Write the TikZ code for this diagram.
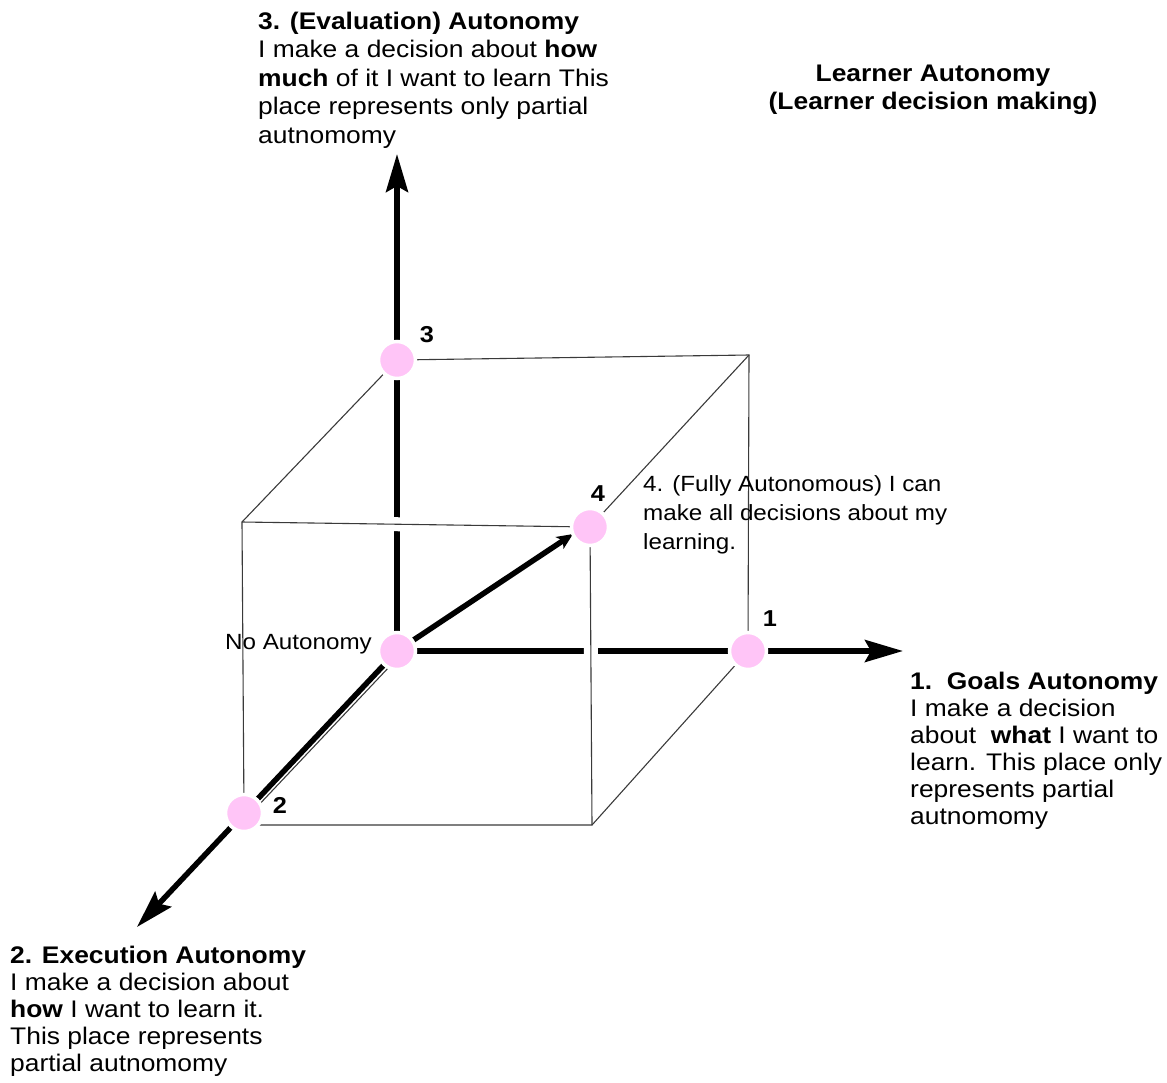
\documentclass[tikz,border=0pt]{standalone}
\usepackage{fontspec}
\setmainfont[FakeStretch=1.1]{Liberation Sans}
\usetikzlibrary{arrows.meta}
\definecolor{dotpink}{HTML}{FFC5F7}
\definecolor{edgegray}{HTML}{3A3A3A}

\begin{document}
\begin{tikzpicture}[x=1pt,y=-1pt,
  axis/.style={line width=5.5pt,-{Stealth[length=38pt,width=22pt,inset=6pt]}},
  edge/.style={draw=edgegray,line width=1.1pt},
  halo/.style={preaction={draw=white,line width=14pt,#1}},
  dot/.style={circle,fill=dotpink,draw=white,line width=3.5pt,minimum size=37pt,inner sep=0pt},
  num/.style={font=\fontsize{23}{26}\selectfont\bfseries,anchor=base,inner sep=0pt},
  block/.style={anchor=north west,align=left,inner sep=0pt},
  ]
\useasboundingbox (0,0) rectangle (1167,1082);

% cube corners and axis points
\coordinate (o)   at (397,651);
\coordinate (p1)  at (748,651);
\coordinate (p2)  at (244,813);
\coordinate (p3)  at (397,360);
\coordinate (p4)  at (590,527);
\coordinate (cxy) at (749,355);
\coordinate (cyz) at (242,522);
\coordinate (cxz) at (592,825);
\coordinate (cbl) at (244,825);
% arrow tips
\coordinate (t1) at (903,651);
\coordinate (t2) at (137,927);
\coordinate (t3) at (397,154);
\coordinate (t4) at (573,534);

% thin cube edges behind the axes
\draw[edge] (p3) -- (cxy) -- (p1);
\draw[edge] (p3) -- (cyz) -- (p2);
\draw[edge] (cbl) -- (cxz) -- (p1);
\draw[edge] (p4) -- (cxy);
\draw[edge] ([shift={(3.8,3.6)}]o) -- ([shift={(3.8,3.6)}]p2);

% the three thick axes
\draw[axis] (o) -- (t3);
\draw[axis] (o) -- (t1);
\draw[axis] (o) -- (t2);

% front edges passing in front of the axes
\draw[edge,halo={shorten <=14pt}] (cyz) -- (p4);
\draw[edge,halo={shorten >=14pt}] (p4) -- (cxz);

% diagonal towards full autonomy
\draw[line width=5.5pt,-{Stealth[length=16pt,width=14pt,inset=4pt]}] (o) -- (t4);

% points
\node[dot] (d0) at (o)  {};
\node[dot] (d1) at (p1) {};
\node[dot] (d2) at (p2) {};
\node[dot] (d3) at (p3) {};
\node[dot] (d4) at (p4) {};

% point numbers
\node[num] (n3) at (427,342) {3};
\node[num] (n4) at (598,501) {4};
\node[num] (n1) at (770,626) {1};
\node[num] (n2) at (280,813) {2};

\node[font=\fontsize{22}{24}\selectfont,anchor=base east,inner sep=0pt] (none) at (372,649) {No Autonomy};

% descriptions
\node[block,font=\fontsize{24}{28.5}\selectfont] (evalbox) at (258,9)
  {\strut\textbf{3. (Evaluation) Autonomy}\\I make a decision about \textbf{how}\\\textbf{much} of it I want to learn This\\place represents only partial\\autnomomy};

\node[anchor=north,align=center,inner sep=0pt,font=\fontsize{24}{28}\selectfont\bfseries] (title) at (933,61.4)
  {\strut Learner Autonomy\\(Learner decision making)};

\node[block,font=\fontsize{22}{29}\selectfont] (fullbox) at (643,470.7)
  {\strut 4. (Fully Autonomous) I can\\make all decisions about my\\learning.};

\node[block,font=\fontsize{24}{27}\selectfont] (goalbox) at (910,670)
  {\strut\textbf{1.\ \ Goals Autonomy}\\I make a decision\\about \ \textbf{what} I want to\\learn. This place only\\represents partial\\autnomomy};

\node[block,font=\fontsize{24}{27}\selectfont] (execbox) at (10,944)
  {\strut\textbf{2. Execution Autonomy}\\I make a decision about\\\textbf{how} I want to learn it.\\This place represents\\partial autnomomy};
\end{tikzpicture}
\end{document}
